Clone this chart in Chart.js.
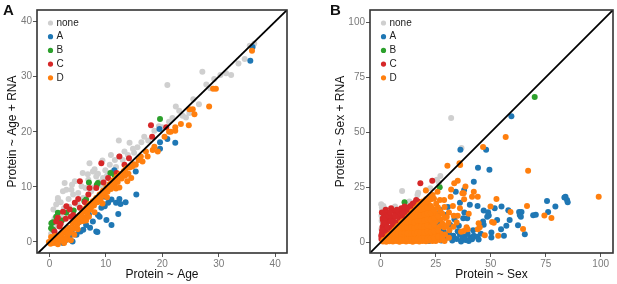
<!DOCTYPE html>
<html>
<head>
<meta charset="utf-8">
<script src="https://cdn.jsdelivr.net/npm/chart.js@4.4.0/dist/chart.umd.min.js"></script>
<style>
  html, body { margin: 0; padding: 0; background: #fff; }
  #wrap { position: relative; width: 617px; height: 284px; overflow: hidden; }
  .panel { position: absolute; top: 0; height: 284px; }
  #panelA { left: 0; width: 300px; }
  #panelB { left: 307px; width: 310px; }
  .tag { position: absolute; top: 1px; font: bold 15px "Liberation Sans", Arial, sans-serif; color: #111; }
</style>
</head>
<body>
<div id="wrap">
  <div class="panel" id="panelA"><canvas id="chartA" width="300" height="284"></canvas></div>
  <div class="panel" id="panelB"><canvas id="chartB" width="310" height="284"></canvas></div>
  <div class="tag" style="left:3px">A</div>
  <div class="tag" style="left:330px">B</div>
</div>
<script>
const groups = ['none', 'A', 'B', 'C', 'D'];
const groupColors = ['#cfcfcf', '#1f77b4', '#2ca02c', '#d62728', '#ff7f0e'];

const ageTicks = [0, 10, 20, 30, 40];
const sexTicks = [0, 25, 50, 75, 100];

// panel A: [Protein ~ Age, Protein ~ Age + RNA]
const ageNone = [[0.3,1.5],[0.6,2.8],[0.9,4.2],[0.7,5.9],[1.2,6.8],[1.5,8.0],[1.0,3.5],[1.8,5.2],[2.4,9.2],[2.0,7.2],
  [3.0,9.5],[2.7,10.7],[3.9,9.5],[3.4,7.8],[4.5,11.0],[4.2,8.6],[5.1,8.9],[5.7,10.1],[5.9,12.5],[6.4,9.8],
  [6.9,11.3],[7.1,14.3],[7.7,12.8],[8.3,11.9],[8.8,10.9],[9.5,11.6],[9.9,13.0],[10.7,14.0],[11.2,12.8],[11.6,14.9],
  [12.3,18.4],[12.4,15.5],[13.3,16.4],[13.9,15.8],[14.8,16.9],[15.6,17.2],[16.3,18.1],[18.6,20.2],[20.9,28.5],[21.2,21.8],
  [21.8,22.5],[22.4,24.6],[23.6,22.9],[24.2,22.6],[24.8,23.4],[26.5,25.0],[27.1,30.9],[28.5,27.9],[30.3,30.3],[31.3,30.6],
  [32.2,30.3],[33.5,32.4],[34.6,33.2],[36.3,36.0],[2.2,4.4],[3.0,5.6],[4.6,7.1],[7.9,9.9],[9.2,10.3],[0.4,0.8],
  [1.3,2.9],[2.6,6.1],[3.5,6.4],[4.0,10.4],[5.0,6.8],[6.0,8.0],[6.8,12.3],[7.4,9.2],[8.0,13.2],[8.6,12.4],
  [9.4,14.8],[10.2,12.0],[10.9,15.8],[11.8,13.6],[13.0,14.9],[14.2,18.0],[15.0,16.2],[16.8,19.1],[17.5,18.4],[19.4,21.0],
  [20.0,20.8],[23.0,23.8],[25.5,25.9],[27.8,28.6],[29.2,29.6],[35.5,35.6],[1.5,7.7]];
const ageA = [[2.4,-0.2],[3.0,0.4],[3.6,1.0],[4.1,0.1],[4.8,1.3],[5.5,1.9],[6.0,2.2],[6.5,3.1],[7.2,2.6],[7.7,3.7],
  [8.3,1.9],[8.5,1.8],[8.6,4.9],[8.9,4.6],[9.2,6.2],[9.8,6.5],[10.1,4.0],[10.4,7.1],[11.0,7.7],[11.0,3.1],
  [11.8,7.1],[12.2,5.1],[12.4,7.8],[12.6,6.9],[13.5,7.2],[15.4,8.6],[11.5,13.0],[15.3,12.8],[19.6,16.9],[19.5,20.5],
  [20.9,18.7],[19.6,18.1],[22.3,18.0],[35.6,32.9],[36.0,35.4],[7.0,5.0],[5.2,3.6],[4.0,2.2],[3.1,1.6],[9.9,8.2],[1.5,0.0]];
const ageB = [[0.3,2.5],[0.6,3.6],[0.35,3.4],[0.65,2.2],[1.2,4.6],[1.5,5.3],[3.0,5.3],[2.2,3.9],[6.2,7.4],[6.5,7.7],
  [7.0,10.8],[8.4,10.4],[8.6,10.7],[10.8,12.5],[11.5,12.2],[19.6,22.3],[4.3,5.7]];
const ageC = [[0.9,1.9],[1.2,3.7],[1.8,2.8],[1.5,4.4],[2.4,5.5],[3.0,6.5],[3.6,5.9],[2.9,4.2],[4.2,4.9],[4.5,7.1],
  [5.4,6.2],[5.4,11.0],[5.1,7.8],[6.9,8.6],[7.1,9.8],[6.3,7.2],[8.3,9.8],[9.2,14.3],[9.6,10.8],[10.4,11.6],
  [11.9,12.5],[12.4,15.5],[13.3,14.0],[14.1,15.2],[18.0,21.2],[18.2,19.1],[20.7,20.8],[2.0,3.3],[3.8,4.6]];
const ageD = [[-0.1,0.0],[0.2,-0.3],[0.5,0.2],[0.8,-0.2],[1.1,0.4],[1.4,0.0],[1.7,0.9],[2.0,0.3],[2.3,1.5],[2.5,0.6],
  [2.9,1.9],[3.2,1.1],[3.5,2.6],[3.7,1.8],[4.1,3.4],[4.3,2.4],[4.7,4.0],[4.9,3.1],[5.3,4.8],[5.5,3.7],
  [5.9,5.5],[6.1,4.5],[6.5,6.2],[6.7,5.3],[7.1,6.9],[7.3,5.9],[7.7,7.4],[7.9,6.6],[8.3,8.0],[8.5,7.2],
  [8.9,8.6],[9.1,7.8],[9.5,9.3],[9.7,8.5],[10.1,9.9],[10.3,9.1],[10.7,10.5],[10.9,9.6],[11.3,11.2],[11.5,10.2],
  [11.9,11.8],[12.1,10.9],[12.5,12.3],[12.8,11.5],[13.2,12.9],[13.6,13.4],[14.0,12.4],[14.5,11.6],[14.7,13.7],[15.3,14.0],
  [16.2,15.5],[16.5,14.6],[17.1,16.4],[17.4,15.5],[18.3,16.7],[19.2,16.4],[18.6,17.3],[20.4,19.1],[21.2,20.0],[21.5,20.0],
  [22.3,20.2],[22.3,20.8],[23.3,21.4],[24.7,21.2],[24.8,24.1],[25.4,24.1],[25.7,23.2],[28.3,24.6],[29.0,27.8],[29.5,27.8],
  [35.9,34.7],[10.2,8.1],[11.8,9.7],[8.0,5.4],[6.0,3.8],[3.0,0.4],[1.5,-0.4],[3.8,0.3],[2.6,-0.2],[0.3,0.9],
  [1.0,1.1],[5.0,2.3],[12.4,9.9],[9.4,7.0],[0.6,0.7],[1.9,1.3],[2.7,2.2],[3.4,1.6],[4.5,3.6],[5.1,4.2],
  [5.7,4.9],[6.3,5.8],[6.9,6.1],[7.5,6.5],[8.1,7.6],[8.7,7.9],[9.3,8.9],[9.9,9.2],[10.5,10.0],[11.1,10.6],
  [11.7,11.0],[12.3,11.9],[13.0,12.2],[13.4,12.0],[14.2,13.5],[15.0,14.1],[15.8,14.9],[4.4,1.3],[6.5,3.9],[7.0,4.6],[13.8,11.0]];

// panel B: [Protein ~ Sex, Protein ~ Sex + RNA]
const sexNone = [[0.2,17.3],[0.5,15.8],[1.2,16.5],[0.8,13.2],[2.5,14.5],[1.6,11.4],[0.4,9.8],[3.8,13.6],[9.7,23.3],[27.1,30.1],
  [25.5,28.4],[26.5,27.0],[32.0,56.5],[36.7,42.9],[17.0,22.5],[13.0,18.5],[6.5,16.2],[5.0,15.0],[0.3,6.0],[12.0,16.8],
  [20.6,23.8],[22.5,24.5],[16.7,21.5],[0.3,12.0],[0.6,14.3],[1.8,15.3]];
const sexA = [[36.2,42.1],[47.9,42.0],[59.4,57.3],[44.2,33.9],[49.4,32.9],[42.3,27.5],[34.1,23.0],[37.9,23.8],[40.5,17.0],[84.0,20.7],
  [83.5,20.3],[84.7,19.2],[85.0,18.2],[75.6,18.8],[79.4,16.2],[76.1,13.8],[69.3,12.3],[62.9,13.8],[64.0,13.8],[63.2,12.4],
  [63.7,11.6],[58.6,10.1],[62.4,7.7],[65.5,3.6],[57.1,7.5],[54.7,5.9],[50.3,4.4],[50.3,2.1],[52.9,10.1],[54.9,16.2],
  [51.8,15.5],[46.8,14.4],[48.8,13.6],[49.1,12.1],[48.4,11.6],[46.5,9.4],[46.8,7.9],[37.5,10.9],[39.3,10.9],[38.2,2.5],
  [37.0,1.4],[38.5,1.0],[40.8,2.1],[41.5,1.4],[42.3,2.9],[43.8,2.5],[27.1,14.7],[29.4,12.4],[31.5,8.0],[33.5,10.5],
  [35.5,7.5],[33.0,3.0],[34.5,1.5],[36.0,3.5],[30.0,2.0],[27.5,0.8],[25.0,1.5],[22.0,0.5],[28.5,5.5],[31.0,4.2],
  [35.0,5.0],[39.5,3.8],[42.0,5.5],[44.5,1.2],[45.5,3.8],[36.5,0.3],[40.0,0.6],[32.5,0.8],[24.0,4.5],[26.0,8.5],
  [30.5,16.0],[38.0,13.5],[44.0,16.5],[36.0,18.0],[70.5,12.5],[58.0,14.5],[56.0,3.0],[25.5,13.0],[20.0,3.5],[22.5,9.0]];
const sexB = [[10.8,18.2],[70.0,66.0],[26.8,25.0]];
const sexC = [[0.3,1.5],[0.5,4.0],[0.8,7.0],[1.0,10.0],[0.9,10.9],[1.5,12.5],[2.0,5.5],[2.5,8.5],[3.2,13.2],[3.5,10.5],
  [4.2,3.5],[4.7,15.5],[5.0,7.0],[5.5,11.5],[6.3,14.0],[7.0,12.4],[7.5,9.0],[8.2,13.5],[9.3,15.5],[9.5,11.5],
  [10.5,14.0],[11.0,12.0],[11.8,15.8],[13.0,14.7],[13.5,16.5],[14.5,17.5],[15.2,16.8],[16.1,19.2],[17.0,18.5],[18.0,26.8],
  [23.4,28.0],[1.5,2.5],[3.0,4.0],[6.0,8.0],[8.5,10.0],[12.0,13.5],[2.2,14.8],[3.8,6.5],[0.5,13.5],[1.2,8.5],
  [2.0,11.0],[2.8,6.8],[3.5,12.0],[4.5,9.5],[4.2,13.5],[5.8,9.5],[6.5,11.8],[7.3,14.8],[8.0,11.5],[9.0,12.8],
  [10.0,13.0],[10.8,16.2],[12.5,15.5],[14.0,15.8],[15.5,18.0],[5.5,6.5],[7.0,8.5],[9.8,11.0],[0.2,3.0],[0.6,5.5]];
const sexD = [[1.0,0.3],[1.2,1.0],[2.5,0.2],[2.7,1.8],[4.0,0.4],[4.2,2.0],[4.1,3.5],[5.5,0.3],[5.6,2.4],[5.4,4.6],
  [7.0,0.5],[7.2,2.8],[6.9,5.0],[7.1,6.5],[8.5,0.2],[8.6,2.5],[8.4,4.8],[8.7,7.2],[10.0,0.6],[10.2,3.0],
  [9.9,5.5],[10.1,8.0],[10.0,9.5],[11.5,0.3],[11.6,2.6],[11.4,5.0],[11.7,7.5],[11.5,10.2],[13.0,0.5],[13.2,3.0],
  [12.9,5.6],[13.1,8.2],[13.0,10.8],[13.2,12.4],[14.5,0.2],[14.6,2.5],[14.4,5.0],[14.7,7.6],[14.5,10.0],[14.6,12.6],
  [14.3,14.0],[16.0,0.6],[16.2,3.2],[15.9,5.8],[16.1,8.4],[16.0,11.0],[16.2,13.5],[16.0,15.5],[17.5,0.3],[17.6,2.7],
  [17.4,5.2],[17.7,7.8],[17.5,10.5],[17.6,13.0],[17.4,15.8],[17.3,17.0],[19.0,0.6],[19.2,3.3],[18.9,6.0],[19.1,8.6],
  [19.0,11.2],[19.2,14.0],[18.9,16.5],[19.0,18.5],[20.5,0.4],[20.7,2.8],[20.4,5.5],[20.6,8.0],[20.5,10.8],[20.7,13.5],
  [20.4,16.0],[20.6,19.5],[22.0,0.7],[22.2,3.4],[21.9,6.2],[22.1,9.0],[22.0,11.8],[22.2,14.5],[21.9,17.0],[22.1,20.5],
  [23.5,0.5],[23.7,3.0],[23.4,5.8],[23.6,8.5],[23.5,12.0],[23.4,15.5],[23.6,21.5],[25.0,0.6],[25.3,3.5],[24.8,6.5],
  [25.1,9.5],[25.0,13.0],[25.2,17.5],[27.0,1.0],[27.2,4.0],[26.8,7.2],[27.1,10.5],[27.0,14.2],[26.9,19.2],[29.0,0.5],
  [29.2,3.5],[28.8,6.8],[29.1,11.0],[28.8,19.2],[29.0,16.0],[31.0,2.0],[31.2,5.5],[30.8,9.0],[31.8,20.7],[30.3,34.8],
  [31.0,13.5],[33.4,26.8],[33.0,7.0],[33.2,12.0],[32.8,16.5],[35.8,35.9],[36.1,35.1],[37.1,22.3],[37.9,19.5],[38.5,25.3],
  [37.7,22.3],[42.3,23.0],[41.5,20.7],[44.1,20.7],[46.5,43.3],[56.8,47.9],[67.0,32.5],[20.5,23.5],[25.8,23.0],[39.0,6.8],
  [39.5,5.9],[37.7,5.1],[36.5,4.8],[44.5,8.6],[45.0,6.8],[44.1,5.9],[47.3,3.2],[50.6,9.2],[51.4,8.9],[53.4,2.9],
  [49.9,16.2],[52.6,19.7],[59.0,13.8],[64.7,6.0],[66.5,16.5],[74.4,12.1],[77.6,11.0],[99.1,20.7],[35.0,12.0],[34.5,9.0],
  [36.0,15.5],[40.0,13.0],[32.0,24.0],[35.0,28.0],[1.8,0.8],[3.3,1.2],[3.2,2.8],[4.8,1.2],[4.8,3.6],[6.2,1.5],
  [6.2,3.8],[6.2,5.6],[7.8,1.3],[7.8,3.6],[7.8,6.0],[7.8,7.4],[9.2,1.4],[9.2,3.8],[9.2,6.6],[9.2,8.8],
  [10.8,1.5],[10.8,4.2],[10.8,6.7],[10.8,9.2],[12.2,1.6],[12.2,4.1],[12.2,6.6],[12.2,9.1],[12.2,11.4],[13.8,1.4],
  [13.8,4.0],[13.8,6.8],[13.8,9.4],[13.8,11.8],[15.2,1.4],[15.2,4.2],[15.2,6.6],[15.2,9.0],[15.2,11.6],[15.2,14.2],
  [16.8,1.6],[16.8,4.4],[16.8,7.0],[16.8,9.6],[16.8,12.2],[16.8,14.6],[16.8,16.2],[18.2,1.6],[18.2,4.4],[18.2,7.0],
  [18.2,9.6],[18.2,12.2],[18.2,15.0],[18.2,17.5],[19.8,1.8],[19.8,4.4],[19.8,7.0],[19.8,9.8],[19.8,12.5],[19.8,15.2],
  [19.8,17.8],[21.2,1.8],[21.2,4.8],[21.2,7.5],[21.2,10.2],[21.2,13.0],[21.2,15.8],[21.2,18.6],[22.8,1.8],[22.8,4.5],
  [22.8,7.2],[22.8,10.2],[22.8,13.2],[22.8,16.5],[22.8,19.5],[24.2,2.0],[24.2,5.0],[24.2,8.0],[24.2,11.0],[24.2,14.5],
  [24.2,19.8],[26.0,2.5],[26.0,5.5],[26.0,11.8],[26.0,15.8],[28.0,2.2],[28.0,8.5],[28.0,13.0],[30.0,7.5],[30.0,11.5]];

Chart.defaults.font.family = '"Liberation Sans", Arial, sans-serif';

// full panel border plus the small legend in the top-left corner
const framePlugin = {
  id: 'frame',
  afterDatasetsDraw(chart) {
    const { ctx, chartArea: a } = chart;
    ctx.save();
    ctx.strokeStyle = '#333';
    ctx.lineWidth = 1.6;
    ctx.strokeRect(a.left, a.top, a.right - a.left, a.bottom - a.top);
    ctx.font = '10px "Liberation Sans", Arial, sans-serif';
    ctx.textBaseline = 'middle';
    groups.forEach((g, i) => {
      const y = a.top + 13 + i * 13.7;
      ctx.fillStyle = groupColors[i];
      ctx.beginPath();
      ctx.arc(a.left + 13.5, y, 2.6, 0, Math.PI * 2);
      ctx.fill();
      ctx.fillStyle = '#222';
      ctx.fillText(g, a.left + 19.5, y);
    });
    ctx.restore();
  }
};

function makeChart(id, series, ticks, xRange, yRange, xTitle, yTitle, yWidth, yTitlePad, rightPad) {
  const datasets = series.map((pts, i) => ({
    type: 'scatter',
    label: groups[i],
    data: pts.map(p => ({ x: p[0], y: p[1] })),
    backgroundColor: groupColors[i],
    borderWidth: 0,
    pointRadius: 3,
    order: series.length - i
  }));
  datasets.push({
    type: 'line',
    label: 'y = x',
    data: [{ x: -10, y: -10 }, { x: 120, y: 120 }],
    borderColor: '#000',
    borderWidth: 1.8,
    pointRadius: 0,
    clip: 0,
    order: 0
  });
  const axis = (range, title, fit) => ({
    type: 'linear',
    min: range[0],
    max: range[1],
    afterBuildTicks: s => { s.ticks = ticks.map(v => ({ value: v })); },
    afterFit: fit,
    grid: { drawOnChartArea: false, drawTicks: true, tickLength: 4, tickColor: '#555' },
    border: { display: false },
    ticks: { color: '#7a7a7a', font: { size: 10 }, padding: 1, maxRotation: 0 },
    title: { display: true, text: title, color: '#111', font: { size: 12 } }
  });
  const x = axis(xRange, xTitle, s => { s.height = 31; });
  x.title.padding = { top: 0, bottom: 2 };
  const y = axis(yRange, yTitle, s => { s.width = yWidth; });
  y.title.padding = { top: yTitlePad, bottom: 0 };
  return new Chart(document.getElementById(id), {
    data: { datasets },
    options: {
      responsive: false,
      animation: false,
      layout: { padding: { left: 0, top: 10, right: rightPad, bottom: 0 } },
      plugins: { legend: { display: false }, tooltip: { enabled: false } },
      scales: { x, y }
    },
    plugins: [framePlugin]
  });
}

makeChart('chartA', [ageNone, ageA, ageB, ageC, ageD], ageTicks, [-2.2, 42.1], [-2.0, 42.1],
  'Protein ~ Age', 'Protein ~ Age + RNA', 37, 5, 13);
makeChart('chartB', [sexNone, sexA, sexB, sexC, sexD], sexTicks, [-4.9, 105.6], [-4.9, 105.6],
  'Protein ~ Sex', 'Protein ~ Sex + RNA', 63, 26, 4);
</script>
</body>
</html>
